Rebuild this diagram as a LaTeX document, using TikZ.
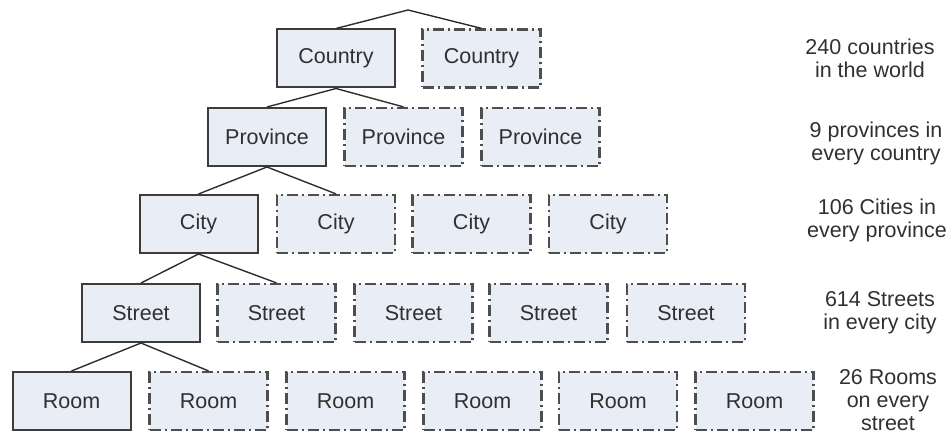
\documentclass[tikz,border=0pt]{standalone}
\usepackage{fontspec}
\setmainfont{Liberation Sans}
\definecolor{boxfill}{HTML}{E9EDF6}
\definecolor{solidline}{HTML}{3C3C3C}
\definecolor{dashline}{HTML}{4E4E4E}
\definecolor{linkline}{HTML}{2E2E2E}
\definecolor{txt}{HTML}{303030}
\begin{document}
\begin{tikzpicture}[x=1pt,y=-1pt,
  font=\fontsize{21.5}{23}\selectfont,
  unit/.style={rectangle, fill=boxfill, minimum width=118pt, minimum height=58pt,
    inner sep=0pt, text=txt},
  realbox/.style={unit, draw=solidline, line width=2pt},
  otherbox/.style={unit, draw=dashline, line width=2.2pt,
    dash pattern=on 11pt off 4pt on 2pt off 4pt},
  link/.style={draw=linkline, line width=1.4pt},
  note/.style={align=center, text=txt, inner sep=0pt}]
\useasboundingbox (0,0) rectangle (948,435);

% countries
\coordinate (world) at (408,10);
\node[realbox]  (c1) at (336,58.5) {Country};
\node[otherbox] (c2) at (481.5,58.5) {Country};

% provinces
\node[realbox]  (p1) at (267,137) {Province};
\node[otherbox] (p2) at (403.5,137) {Province};
\node[otherbox] (p3) at (540.5,137) {Province};

% cities
\node[realbox]  (t1) at (198.5,224) {City};
\node[otherbox] (t2) at (336,224) {City};
\node[otherbox] (t3) at (471.5,224) {City};
\node[otherbox] (t4) at (608,224) {City};

% streets
\node[realbox]  (s1) at (141,313) {Street};
\node[otherbox] (s2) at (276.5,313) {Street};
\node[otherbox] (s3) at (413.5,313) {Street};
\node[otherbox] (s4) at (548.5,313) {Street};
\node[otherbox] (s5) at (686,313) {Street};

% rooms
\node[realbox]  (r1) at (71.5,401) {Room};
\node[otherbox] (r2) at (208.5,401) {Room};
\node[otherbox] (r3) at (345.5,401) {Room};
\node[otherbox] (r4) at (482.5,401) {Room};
\node[otherbox] (r5) at (618,401) {Room};
\node[otherbox] (r6) at (754.5,401) {Room};

% tree links
\draw[link] (c1.north) -- (world) -- (c2.north);
\draw[link] (p1.north) -- (c1.south) -- (p2.north);
\draw[link] (t1.north) -- (p1.south) -- (t2.north);
\draw[link] (s1.north) -- (t1.south) -- (s2.north);
\draw[link] (r1.north) -- (s1.south) -- (r2.north);

% counts per level
\node[note] (n1) at (870,58) {240 countries\\in the world};
\node[note] (n2) at (876,143) {9 provinces in\\every country};
\node[note] (n3) at (877,220) {106 Cities in\\every province};
\node[note] (n4) at (880,313) {614 Streets\\in every city};
\node[note] (n5) at (888,400) {26 Rooms\\on every\\street};
\end{tikzpicture}
\end{document}
